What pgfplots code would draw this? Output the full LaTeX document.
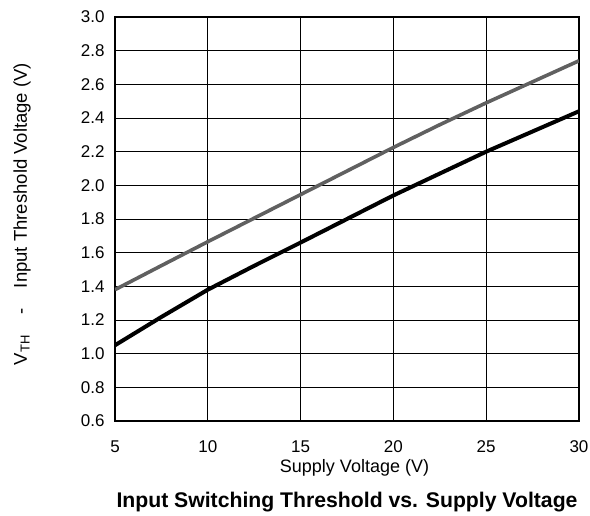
\documentclass[border=0pt]{standalone}
\usepackage{fontspec}
\setmainfont{Liberation Sans}
\usepackage{pgfplots}
\pgfplotsset{compat=1.18}
\definecolor{greyline}{RGB}{96,96,96}
\begin{document}
\begin{tikzpicture}
\begin{axis}[
  at={(0,0)}, anchor=south west,
  scale only axis, width=464pt, height=404pt,
  xmin=5, xmax=30, ymin=0.6, ymax=3.0,
  xtick={5,10,15,20,25,30},
  ytick={0.6,0.8,1.0,1.2,1.4,1.6,1.8,2.0,2.2,2.4,2.6,2.8,3.0},
  grid=major,
  major grid style={black, line width=0.9pt},
  axis line style={line width=1.6pt},
  major tick length=0pt,
  tick style={draw=none},
  /pgf/number format/assume math mode=true,
  ticklabel style={font=\fontsize{17}{19}\selectfont},
  yticklabel style={/pgf/number format/fixed, /pgf/number format/fixed zerofill, /pgf/number format/precision=1, xshift=-7pt},
  xticklabel style={yshift=-16pt},
  clip=true,
]
\addplot[greyline, line width=3.6pt, line join=round] coordinates {
  (5,1.38) (7.5,1.523) (10,1.665) (12.5,1.805) (15,1.945) (17.5,2.085) (20,2.225) (22.5,2.36) (25,2.49) (27.5,2.615) (30,2.74)
};
\addplot[black, line width=4pt, line join=round] coordinates {
  (5,1.05) (7.5,1.218) (10,1.38) (12.5,1.522) (15,1.66) (17.5,1.80) (20,1.94) (22.5,2.07) (25,2.20) (27.5,2.32) (30,2.44)
};
\end{axis}
\node[font=\fontsize{18}{20}\selectfont] at (239.5pt,-47pt) {Supply Voltage (V)};
\node[font=\fontsize{21.2}{23}\selectfont\bfseries] at (232pt,-81pt) {Input Switching Threshold vs. Supply Voltage};
\node[font=\fontsize{18.5}{20}\selectfont, rotate=90] at (-93pt,207pt) {V\textsubscript{TH}\hspace{1.1em}-\hspace{1.1em}Input Threshold Voltage (V)};
\pgfresetboundingbox
\path (-115pt,-95pt) rectangle (475pt,421pt);
\end{tikzpicture}
\end{document}
